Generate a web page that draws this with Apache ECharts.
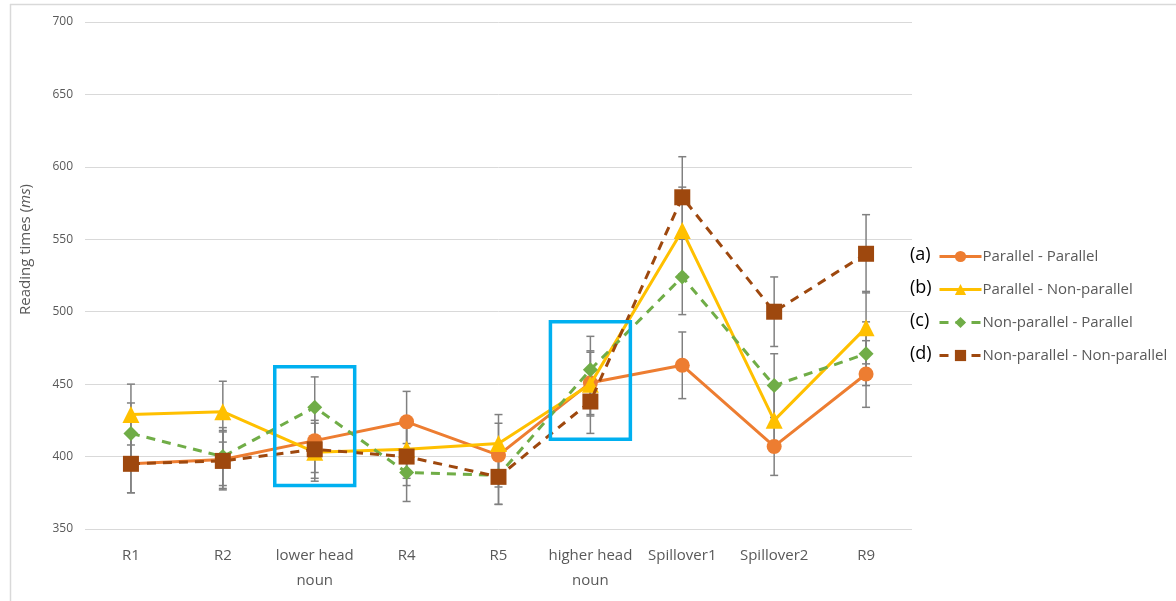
<!DOCTYPE html>
<html>
<head>
<meta charset="utf-8">
<script src="https://cdn.jsdelivr.net/npm/echarts@6/dist/echarts.min.js"></script>
<style>
html,body{margin:0;padding:0;background:#fff;}
#chart{width:1176px;height:601px;}
</style>
</head>
<body>
<div id="chart"></div>
<script>
const categories = ['R1','R2','lower head\nnoun','R4','R5','higher head\nnoun','Spillover1','Spillover2','R9'];
const seriesNames = ['Parallel - Parallel','Parallel - Non-parallel','Non-parallel - Parallel','Non-parallel - Non-parallel'];
const legendTags = ['(a)','(b)','(c)','(d)'];
const valuesA = [395, 398, 411, 424, 401, 451, 463, 407, 457];
const valuesB = [429, 431, 403, 405, 409, 450, 556, 425, 489];
const valuesC = [416, 400, 434, 389, 387, 460, 524, 449, 471];
const valuesD = [395, 397, 405, 400, 386, 438, 579, 500, 540];
const errA = [20, 20, 22, 21, 22, 22, 23, 20, 23];
const errB = [21, 21, 20, 20, 20, 22, 30, 22, 25];
const errC = [21, 20, 21, 20, 20, 23, 26, 22, 22];
const errD = [20, 20, 20, 20, 19, 22, 28, 24, 27];
const highlightBoxes = [[2, 380, 462], [5, 412, 493]];
const yTicks = {min: 350, max: 700, interval: 50};

const colors = ['#ED7D31', '#FFC000', '#70AD47', '#9E480E'];
const symbols = ['circle', 'triangle', 'diamond', 'rect'];
const symbolSizes = [15, 17, 15, 16];
const lineTypes = ['solid', 'solid', [9, 7], [9, 7]];
const allValues = [valuesA, valuesB, valuesC, valuesD];
const allErr = [errA, errB, errC, errD];

const chart = echarts.init(document.getElementById('chart'), null, {renderer: 'canvas'});

const errorData = [];
allValues.forEach((vals, s) => {
  vals.forEach((v, i) => errorData.push([i, v - allErr[s][i], v + allErr[s][i]]));
});

function renderError(params, api) {
  const x = api.value(0);
  const lo = api.coord([x, api.value(1)]);
  const hi = api.coord([x, api.value(2)]);
  const cap = 4;
  const style = {stroke: '#808080', lineWidth: 1.5};
  return {
    type: 'group',
    children: [
      {type: 'line', shape: {x1: lo[0], y1: lo[1], x2: hi[0], y2: hi[1]}, style},
      {type: 'line', shape: {x1: lo[0] - cap, y1: lo[1], x2: lo[0] + cap, y2: lo[1]}, style},
      {type: 'line', shape: {x1: hi[0] - cap, y1: hi[1], x2: hi[0] + cap, y2: hi[1]}, style}
    ]
  };
}

function renderBox(params, api) {
  const x = api.value(0);
  const lo = api.coord([x, api.value(1)]);
  const hi = api.coord([x, api.value(2)]);
  const w = api.size([1, 0])[0] * 0.87;
  return {
    type: 'rect',
    shape: {x: lo[0] - w / 2, y: hi[1], width: w, height: lo[1] - hi[1]},
    style: {fill: 'none', stroke: '#00B0F0', lineWidth: 3.5}
  };
}

const lineSeries = allValues.map((vals, s) => ({
  name: seriesNames[s],
  type: 'line',
  data: vals,
  symbol: symbols[s],
  symbolSize: symbolSizes[s],
  z: 3 + s,
  lineStyle: {color: colors[s], width: 3, type: lineTypes[s]},
  itemStyle: {color: colors[s]},
  emphasis: {disabled: true},
  animation: false
}));

const legendGraphics = legendTags.map((t, i) => ({
  type: 'text',
  left: 910,
  top: 246 + i * 33,
  style: {text: t, fontSize: 18, fill: '#000', fontFamily: 'Open Sans'}
}));

const option = {
  backgroundColor: '#fff',
  animation: false,
  color: colors,
  grid: {left: 85, right: 264, top: 22, bottom: 72},
  xAxis: {
    type: 'category',
    data: categories,
    boundaryGap: true,
    axisLine: {show: false},
    axisTick: {show: false},
    axisLabel: {color: '#595959', fontSize: 15, fontFamily: 'Open Sans', margin: 14, lineHeight: 25, interval: 0}
  },
  yAxis: {
    type: 'value',
    min: yTicks.min, max: yTicks.max, interval: yTicks.interval,
    name: '{n|Reading times (}{i|ms}{n|)}',
    nameLocation: 'middle',
    nameGap: 52,
    nameRotate: 90,
    nameTextStyle: {
      padding: [0, 0, 0, 52],
      rich: {
        n: {fontSize: 15, color: '#595959', fontFamily: 'Open Sans'},
        i: {fontSize: 15, color: '#595959', fontFamily: 'Open Sans', fontStyle: 'italic'}
      }
    },
    axisLine: {show: false},
    axisTick: {show: false},
    axisLabel: {color: '#595959', fontSize: 12, fontFamily: 'Open Sans', margin: 12},
    splitLine: {lineStyle: {color: '#d9d9d9', width: 1}}
  },
  legend: {
    orient: 'vertical',
    left: 933,
    top: 244,
    itemWidth: 42,
    itemHeight: 14,
    itemGap: 18,
    data: seriesNames,
    lineStyle: {width: 3},
    textStyle: {color: '#595959', fontSize: 15, fontFamily: 'Open Sans', padding: [0, 0, 0, -4]},
    selectedMode: false
  },
  graphic: [
    {type: 'line', shape: {x1: 10, y1: 4.5, x2: 1176, y2: 4.5}, style: {stroke: '#d9d9d9', lineWidth: 1.5}},
    {type: 'line', shape: {x1: 10.5, y1: 4, x2: 10.5, y2: 601}, style: {stroke: '#d9d9d9', lineWidth: 1.5}}
  ].concat(legendGraphics),
  series: [
    {
      type: 'custom',
      name: 'errors',
      renderItem: renderError,
      data: errorData,
      z: 2,
      silent: true,
      encode: {x: 0, y: [1, 2]}
    }
  ].concat(lineSeries).concat([
    {
      type: 'custom',
      name: 'boxes',
      renderItem: renderBox,
      data: highlightBoxes,
      z: 10,
      silent: true,
      encode: {x: 0, y: [1, 2]}
    }
  ])
};

chart.setOption(option);
</script>
</body>
</html>
